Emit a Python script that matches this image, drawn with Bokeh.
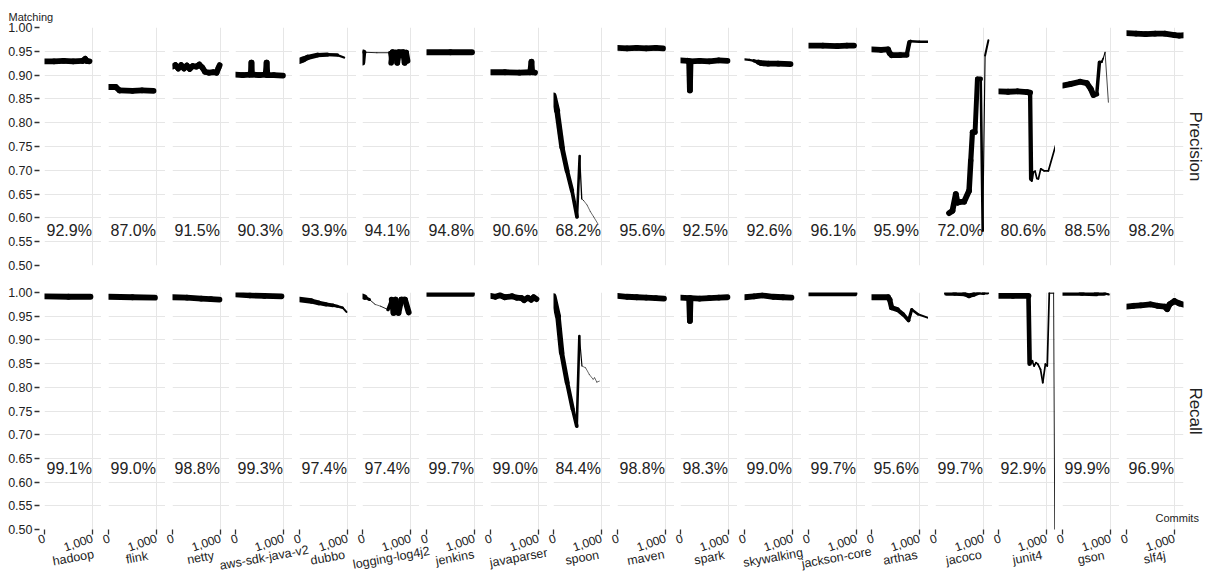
import math
from bokeh.plotting import figure
from bokeh.layouts import column, row
from bokeh.models import Range1d, FactorRange, FixedTicker, NumeralTickFormatter, Label, LinearAxis
from bokeh.core.properties import value
from bokeh.embed import file_html
from bokeh.resources import INLINE

# ---------------- data ----------------
PROJECTS = ["hadoop", "flink", "netty", "aws-sdk-java-v2", "dubbo", "logging-log4j2",
            "jenkins", "javaparser", "spoon", "maven", "spark", "skywalking",
            "jackson-core", "arthas", "jacoco", "junit4", "gson", "slf4j"]
PRECISION_MEAN = [92.9, 87.0, 91.5, 90.3, 93.9, 94.1, 94.8, 90.6, 68.2, 95.6,
                  92.5, 92.6, 96.1, 95.9, 72.0, 80.6, 88.5, 98.2]
RECALL_MEAN = [99.1, 99.0, 98.8, 99.3, 97.4, 97.4, 99.7, 99.0, 84.4, 98.8,
               98.3, 99.0, 99.7, 95.6, 99.7, 92.9, 99.9, 96.9]
ROW_NAMES = ["Precision", "Recall"]
Y_TITLE = "Matching"
X_TITLE = "Commits"
Y_TICKS = [0.50, 0.55, 0.60, 0.65, 0.70, 0.75, 0.80, 0.85, 0.90, 0.95, 1.00]
X_TICKS = [0, 1000]

# (commit, value, support) per project and metric
PREC_HADOOP = [(0, .929, 10), (200, .929, 10), (400, .930, 10), (600, .929, 10), (800, .930, 10),
               (848, .934, 10), (880, .930, 10), (940, .929, 10)]
PREC_FLINK = [(0, .875, 10), (150, .875, 10), (230, .868, 10), (500, .867, 10), (700, .868, 10), (940, .867, 10)]
PREC_NETTY = [(0, .918, 10), (60, .921, 10), (120, .914, 10), (180, .921, 10), (240, .914, 10), (300, .920, 10),
              (360, .913, 10), (420, .919, 10), (500, .918, 10), (560, .922, 10), (620, .916, 10), (680, .907, 10),
              (760, .905, 10), (860, .906, 10), (920, .905, 10), (960, .915, 10), (985, .921, 10)]
PREC_AWS = [(0, .901, 10), (150, .900, 10), (300, .901, 10), (320, .902, 10), (333, .926, 10), (345, .901, 10),
            (500, .900, 10), (630, .901, 10), (650, .926, 10), (665, .900, 10), (800, .900, 10), (990, .899, 10)]
PREC_DUBBO = [(0, .930, 11), (80, .933, 10), (166, .937, 9), (375, .942, 8), (583, .943, 7), (791, .942, 5), (930, .937, 3)]
PREC_LOG4J2 = [(0, .926, 10), (20, .948, 9), (50, .948, 2), (300, .947, 1), (570, .947, 2), (600, .926, 10),
               (625, .948, 10), (700, .947, 10), (725, .926, 10), (760, .948, 10), (850, .948, 10),
               (880, .926, 10), (910, .947, 10), (940, .930, 10)]
PREC_JENKINS = [(0, .948, 10), (500, .948, 10), (950, .948, 10)]
PREC_JAVAPARSER = [(0, .906, 10), (300, .906, 10), (600, .905, 10), (830, .906, 10), (855, .928, 10),
                   (870, .906, 10), (930, .905, 10)]
PREC_SPOON = [(0, .857, 11), (75, .825, 10), (179, .748, 9), (283, .699, 8), (387, .657, 7), (491, .602, 6),
              (546, .730, 3), (590, .640, 1.5), (632, .636, 1), (701, .627, 1), (771, .613, 1), (840, .602, 1), (930, .587, 1)]
PREC_MAVEN = [(0, .957, 10), (200, .956, 10), (400, .957, 10), (600, .956, 10), (800, .957, 10), (950, .956, 10)]
PREC_SPARK = [(0, .931, 10), (150, .930, 10), (180, .929, 10), (196, .868, 10), (210, .929, 10), (400, .930, 10),
              (600, .929, 10), (800, .931, 10), (980, .930, 10)]
PREC_SKYWALKING = [(0, .933, 4), (100, .932, 4), (200, .930, 4), (290, .927, 8), (350, .925, 10), (500, .924, 10),
                   (700, .924, 10), (960, .923, 10)]
PREC_JACKSON = [(0, .962, 10), (300, .962, 10), (600, .961, 10), (800, .962, 10), (950, .962, 10)]
PREC_ARTHAS = [(0, .954, 10), (200, .953, 10), (345, .954, 10), (380, .946, 10), (420, .942, 10), (600, .942, 10),
               (735, .942, 9), (790, .969, 6), (815, .971, 5), (1000, .970, 4), (1180, .970, 4)]
PREC_JACOCO = [(283, .610, 10), (354, .615, 10), (424, .650, 10), (460, .632, 10), (493, .633, 10), (597, .634, 10),
               (701, .657, 10), (736, .720, 9), (771, .780, 9), (826, .780, 9), (875, .892, 8), (944, .892, 8),
               (986, .573, 1), (1035, .941, 3), (1104, .973, 4)]
PREC_JUNIT4 = [(0, .866, 10), (200, .865, 10), (400, .866, 10), (600, .864, 10), (660, .863, 10), (681, .682, 5),
               (694, .678, 3), (729, .696, 3), (764, .698, 3), (800, .683, 3), (833, .682, 3), (882, .703, 3),
               (951, .699, 3), (1042, .699, 3), (1215, .760, 3)]
PREC_GSON = [(0, .878, 10), (160, .881, 10), (368, .886, 10), (507, .883, 10), (590, .871, 10), (646, .858, 10),
             (715, .860, 7), (771, .927, 5), (819, .928, 4), (850, .935, 2), (889, .948, 1.5), (958, .843, 1)]
PREC_SLF4J = [(0, .988, 10), (200, .987, 10), (400, .986, 10), (600, .987, 10), (800, .987, 10), (1000, .984, 10),
              (1100, .983, 10), (1250, .984, 10)]

REC_HADOOP = [(0, .992, 10), (500, .991, 10), (960, .991, 10)]
REC_FLINK = [(0, .991, 10), (500, .990, 10), (970, .989, 10)]
REC_NETTY = [(0, .990, 10), (300, .989, 10), (600, .987, 10), (800, .986, 10), (980, .985, 10)]
REC_AWS = [(0, .996, 10), (300, .994, 10), (600, .993, 10), (960, .992, 10)]
REC_DUBBO = [(0, .985, 10), (250, .982, 9), (400, .978, 8), (555, .975, 7), (700, .973, 6), (790, .971, 5),
             (900, .968, 4), (980, .959, 3)]
REC_LOG4J2 = [(0, .992, 10), (50, .990, 8), (147, .985, 2), (262, .975, 1), (378, .971, 1), (532, .964, 2),
              (610, .985, 10), (648, .957, 10), (687, .985, 10), (750, .957, 10), (810, .985, 10), (887, .985, 10),
              (965, .958, 10)]
REC_JENKINS = [(0, .997, 10), (950, .997, 10)]
REC_JAVAPARSER = [(0, .993, 10), (100, .991, 10), (200, .994, 10), (300, .990, 10), (450, .992, 10), (550, .989, 10),
                  (650, .988, 10), (700, .984, 10), (780, .989, 10), (850, .985, 10), (900, .990, 10), (960, .986, 10)]
REC_SPOON = [(0, .992, 11), (93, .950, 10), (170, .873, 9), (285, .810, 8), (401, .754, 7), (486, .718, 6),
             (540, .908, 3), (594, .845, 1), (671, .841, 1), (748, .827, 1), (826, .817, 1), (860, .820, 1),
             (903, .811, 1), (957, .813, 1)]
REC_MAVEN = [(0, .993, 10), (200, .991, 10), (400, .990, 10), (600, .989, 10), (800, .988, 10), (970, .987, 10)]
REC_SPARK = [(0, .989, 10), (180, .988, 10), (196, .940, 10), (210, .988, 10), (400, .987, 10), (600, .988, 10),
             (800, .989, 10), (980, .990, 10)]
REC_SKYWALKING = [(0, .990, 10), (200, .992, 10), (370, .994, 10), (600, .991, 10), (800, .990, 10), (980, .989, 10)]
REC_JACKSON = [(0, .998, 10), (960, .998, 10)]
REC_ARTHAS = [(0, .990, 10), (345, .990, 10), (380, .985, 9), (420, .968, 9), (540, .964, 8), (660, .954, 7),
              (775, .941, 6), (840, .964, 5), (970, .954, 4), (1170, .947, 3)]
REC_JACOCO = [(227, .998, 8), (400, .998, 8), (600, .997, 8), (700, .993, 8), (800, .996, 8), (893, 1.0, 8),
              (1000, .999, 6), (1090, .999, 4)]
REC_JUNIT4 = [(0, .993, 10), (300, .993, 10), (626, .993, 10), (650, .850, 6), (705, .855, 3), (744, .845, 3),
              (783, .852, 3), (822, .849, 3), (877, .838, 3), (924, .810, 3), (979, .849, 3), (1018, .845, 3),
              (1060, .999, 3), (1150, .999, 2), (1185, .300, 1)]
REC_GSON = [(0, .999, 10), (400, .999, 10), (700, .998, 10), (870, .998, 6), (963, .996, 2)]
REC_SLF4J = [(0, .970, 10), (150, .972, 10), (300, .973, 10), (500, .975, 10), (650, .972, 10), (800, .970, 10),
             (850, .965, 10), (900, .975, 10), (960, .979, 10), (1000, .982, 10), (1100, .977, 10), (1250, .973, 10)]

PRECISION = [PREC_HADOOP, PREC_FLINK, PREC_NETTY, PREC_AWS, PREC_DUBBO, PREC_LOG4J2, PREC_JENKINS,
             PREC_JAVAPARSER, PREC_SPOON, PREC_MAVEN, PREC_SPARK, PREC_SKYWALKING, PREC_JACKSON,
             PREC_ARTHAS, PREC_JACOCO, PREC_JUNIT4, PREC_GSON, PREC_SLF4J]
RECALL = [REC_HADOOP, REC_FLINK, REC_NETTY, REC_AWS, REC_DUBBO, REC_LOG4J2, REC_JENKINS,
          REC_JAVAPARSER, REC_SPOON, REC_MAVEN, REC_SPARK, REC_SKYWALKING, REC_JACKSON,
          REC_ARTHAS, REC_JACOCO, REC_JUNIT4, REC_GSON, REC_SLF4J]

# ---------------- layout / style ----------------
FONT = "Liberation Sans"
TXT = "#222222"
GRID = "#e6e6e6"
XMAX = 1190
FRAME_W = 57
STEP = 63.6
LEFT0 = 44.3
RIGHT_EDGE = 1209
LW_PER_SUPPORT = 0.58
ROW_FRAME_H = [238, 237]
ROW_TOP = [27, 19]
ROW_BOTTOM = [8, 31]
LABEL_Y = [0.573, 0.628]
STRIP_Y = 0.75
COMMITS_Y = 0.5243
NAME_ANGLE = 0.18
NAME_Y = 0.45

n = len(PROJECTS)
frame_lefts = [int(LEFT0 + STEP * i + 0.5) for i in range(n)]


def plain_axis(ticks, overrides, orientation, standoff, size):
    ax = LinearAxis(ticker=FixedTicker(ticks=ticks), major_label_overrides=overrides)
    ax.axis_line_color = None
    ax.major_tick_line_color = None
    ax.minor_tick_line_color = None
    ax.major_label_orientation = orientation
    ax.major_label_standoff = standoff
    ax.major_label_text_font = FONT
    ax.major_label_text_font_size = size
    ax.major_label_text_color = TXT
    return ax


def make_panel(i, r, series, mean):
    if i == 0:
        bl = frame_lefts[0]
    else:
        bl = frame_lefts[i] - (frame_lefts[i - 1] + FRAME_W)
    br = RIGHT_EDGE - (frame_lefts[i] + FRAME_W) if i == n - 1 else 0
    bt, bb, fh = ROW_TOP[r], ROW_BOTTOM[r], ROW_FRAME_H[r]
    p = figure(width=bl + FRAME_W + br, height=bt + fh + bb,
               x_range=Range1d(0, XMAX), y_range=Range1d(0.5, 1.0),
               output_backend="svg", toolbar_location=None,
               min_border_left=bl, min_border_right=br, min_border_top=bt, min_border_bottom=bb,
               x_axis_location=("below" if r == 1 else None),
               y_axis_location=("left" if i == 0 else None))
    p.outline_line_color = None
    p.background_fill_color = "white"
    p.border_fill_color = None
    p.xgrid.ticker = FixedTicker(ticks=X_TICKS)
    p.ygrid.ticker = FixedTicker(ticks=Y_TICKS)
    for g in (p.xgrid, p.ygrid):
        g.grid_line_color = GRID
        g.grid_line_width = 1

    if i == 0:
        ax = p.yaxis[0]
        ax.ticker = FixedTicker(ticks=Y_TICKS)
        ax.formatter = NumeralTickFormatter(format="0.00")
        ax.axis_line_color = None
        ax.major_tick_in = -5
        ax.major_tick_out = 10
        ax.major_tick_line_color = "#333333"
        ax.major_tick_line_width = 1.3
        ax.minor_tick_line_color = None
        ax.major_label_standoff = 2
        ax.major_label_text_font = FONT
        ax.major_label_text_font_size = "12.5px"
        ax.major_label_text_color = TXT
    if r == 1:
        ax = p.xaxis[0]
        ax.ticker = FixedTicker(ticks=X_TICKS)
        ax.formatter = NumeralTickFormatter(format="0,0")
        ax.axis_line_color = None
        ax.major_tick_in = 0
        ax.major_tick_out = 5
        ax.major_tick_line_color = "#333333"
        ax.major_tick_line_width = 1.3
        ax.minor_tick_line_color = None
        ax.major_label_standoff = 3
        ax.major_label_orientation = 0.33
        ax.major_label_text_font = FONT
        ax.major_label_text_font_size = "12px"
        ax.major_label_text_color = TXT

    xs = [c for c, _, _ in series]
    ys = [v for _, v, _ in series]
    ws = [s for _, _, s in series]
    p.segment(x0=xs[:-1], y0=ys[:-1], x1=xs[1:], y1=ys[1:],
              line_width=[(a + b) / 2 * LW_PER_SUPPORT for a, b in zip(ws[:-1], ws[1:])],
              line_color="black", line_cap="round")

    p.add_layout(Label(x=0, y=LABEL_Y[r], x_offset=2, text=f"{mean:.1f}%",
                       text_align="left", text_baseline="middle",
                       text_font=FONT, text_font_size="16px", text_color=TXT))

    if i == n - 1:
        p.add_layout(plain_axis([STRIP_Y], {STRIP_Y: ROW_NAMES[r]}, "parallel", -4, "17px"), "right")
        if r == 1:
            p.add_layout(plain_axis([COMMITS_Y], {COMMITS_Y: X_TITLE}, "horizontal", -58, "11px"), "right")
    if i == 0 and r == 0:
        p.title.text = Y_TITLE
        p.title.align = "left"
        p.title.offset = -36
        p.title.standoff = 9
        p.title.text_font = FONT
        p.title.text_font_size = "11px"
        p.title.text_font_style = "normal"
        p.title.text_color = TXT
    return p


top = [make_panel(i, 0, PRECISION[i], PRECISION_MEAN[i]) for i in range(n)]
bottom = [make_panel(i, 1, RECALL[i], RECALL_MEAN[i]) for i in range(n)]

# project names strip (categorical scale, one factor per panel)
names_left = 41
names_w = int(STEP * n + 0.5)
names = figure(width=RIGHT_EDGE, height=35, x_range=FactorRange(factors=PROJECTS, range_padding=0, factor_padding=0),
               y_range=Range1d(0, 1), output_backend="svg", toolbar_location=None,
               min_border_left=names_left, min_border_right=RIGHT_EDGE - names_left - names_w,
               min_border_top=0, min_border_bottom=0, x_axis_location=None, y_axis_location=None,
               margin=(-22, 0, 0, 0))
names.grid.visible = False
names.outline_line_color = None
names.background_fill_color = None
names.border_fill_color = None
names.text(x=PROJECTS, y=[NAME_Y] * n, text=PROJECTS, angle=NAME_ANGLE,
           text_align="center", text_baseline="middle",
           text_font=value(FONT), text_font_size=value("12.5px"), text_color=TXT)

layout = column(row(*top, spacing=0), row(*bottom, spacing=0), names, spacing=0)

open("out.html", "w").write(file_html(layout, INLINE))
